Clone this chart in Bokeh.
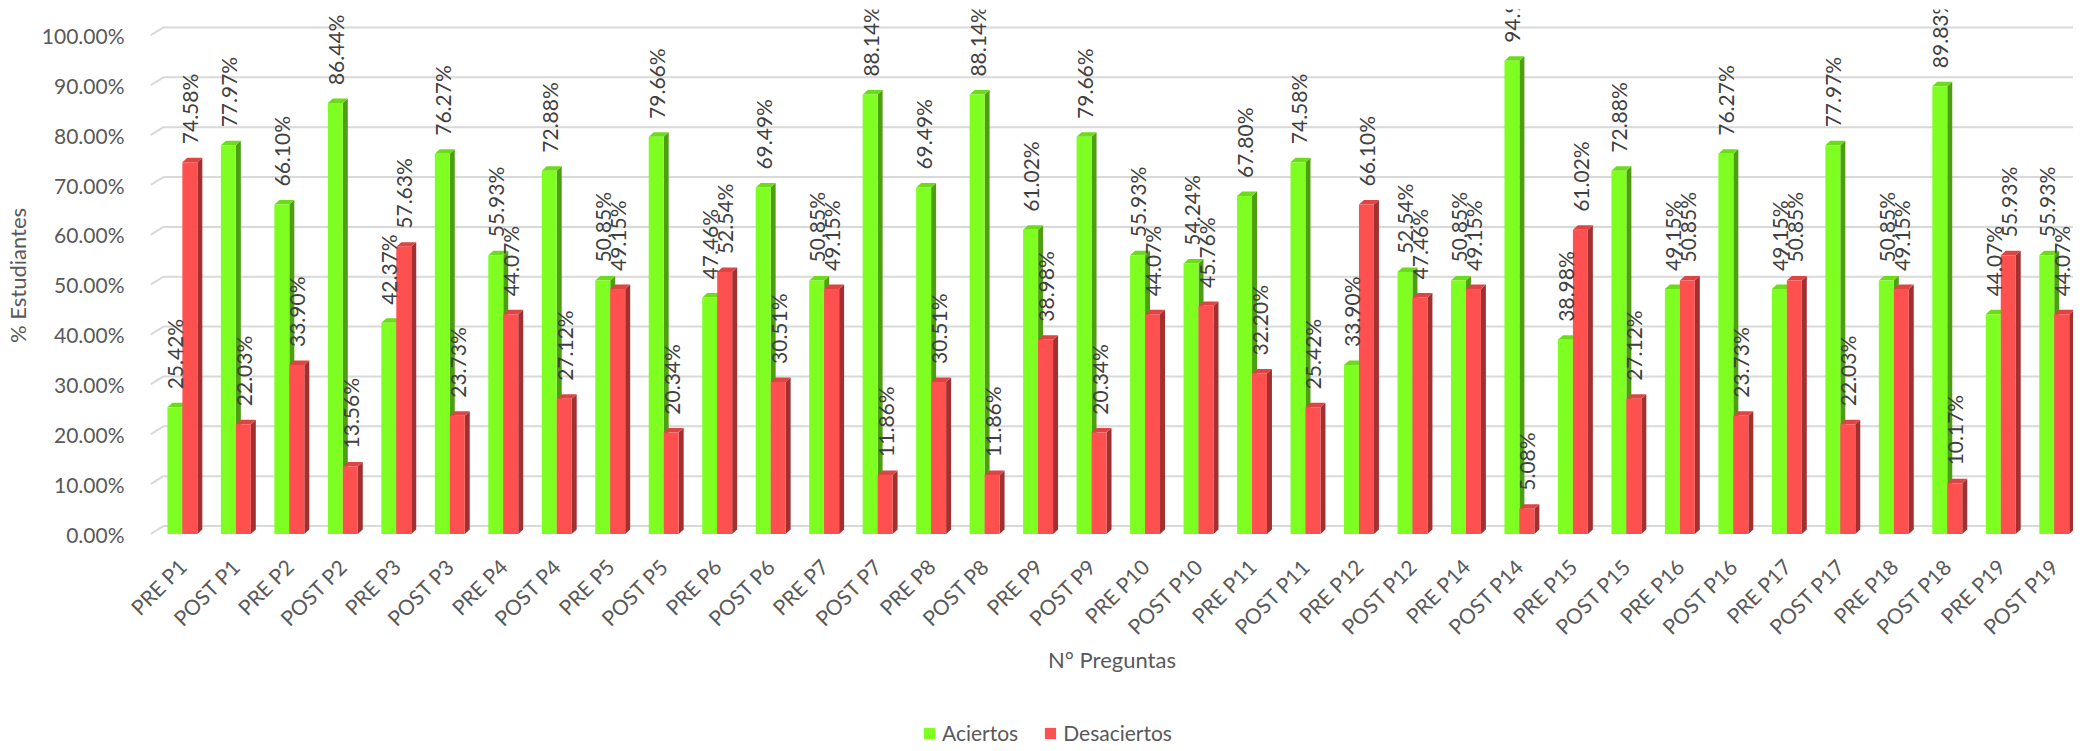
import math
from bokeh.plotting import figure
from bokeh.layouts import column
from bokeh.models import (Range1d, FixedTicker, PrintfTickFormatter, Legend, LegendItem)
from bokeh.core.properties import value
from bokeh.embed import file_html
from bokeh.resources import INLINE

categories = ["PRE P1", "POST P1", "PRE P2", "POST P2", "PRE P3", "POST P3", "PRE P4", "POST P4",
              "PRE P5", "POST P5", "PRE P6", "POST P6", "PRE P7", "POST P7", "PRE P8", "POST P8",
              "PRE P9", "POST P9", "PRE P10", "POST P10", "PRE P11", "POST P11", "PRE P12", "POST P12",
              "PRE P14", "POST P14", "PRE P15", "POST P15", "PRE P16", "POST P16", "PRE P17", "POST P17",
              "PRE P18", "POST P18", "PRE P19", "POST P19"]
aciertos = [25.42, 77.97, 66.10, 86.44, 42.37, 76.27, 55.93, 72.88, 50.85, 79.66, 47.46, 69.49,
            50.85, 88.14, 69.49, 88.14, 61.02, 79.66, 55.93, 54.24, 67.80, 74.58, 33.90, 52.54,
            50.85, 94.92, 38.98, 72.88, 49.15, 76.27, 49.15, 77.97, 50.85, 89.83, 44.07, 55.93]
desaciertos = [74.58, 22.03, 33.90, 13.56, 57.63, 23.73, 44.07, 27.12, 49.15, 20.34, 52.54, 30.51,
               49.15, 11.86, 30.51, 11.86, 38.98, 20.34, 44.07, 45.76, 32.20, 25.42, 66.10, 47.46,
               49.15, 5.08, 61.02, 27.12, 50.85, 23.73, 50.85, 22.03, 49.15, 10.17, 55.93, 44.07]
series_names = ["Aciertos", "Desaciertos"]
y_ticks = [0, 10, 20, 30, 40, 50, 60, 70, 80, 90, 100]

FONT = "Lato"
GREEN = ("#7FFF21", "#6CDC1A", "#4E9E12")
RED = ("#FF5050", "#DD4545", "#A33030")
X0, X1 = -0.596, 35.36
Y0, Y1 = -1.5, 105.2

p = figure(width=2073, height=695, output_backend="svg", toolbar_location=None,
           x_range=Range1d(X0, X1), y_range=Range1d(Y0, Y1),
           min_border_top=9, min_border_right=0, min_border_left=142, min_border_bottom=154)
p.outline_line_color = None
p.xgrid.visible = False
p.ygrid.visible = False

# back-wall gridlines with perspective slant at left
gdx, gdy = 0.242, 1.6
p.multi_line(xs=[[X0, X0 + gdx, X1] for _ in y_ticks],
             ys=[[t, t + gdy, t + gdy] for t in y_ticks],
             line_color="#D9D9D9", line_width=2)

bw = 0.28
ddx, ddy = 0.093, 0.9

def boxes(vals, x_off):
    fr, tp, sd = ([], []), ([], []), ([], [])
    for i, v in enumerate(vals):
        a, b = i + x_off, i + x_off + bw
        fr[0].append([a, b, b, a]); fr[1].append([0, 0, v, v])
        tp[0].append([a, b, b + ddx, a + ddx]); tp[1].append([v, v, v + ddy, v + ddy])
        sd[0].append([b, b + ddx, b + ddx, b]); sd[1].append([0, ddy, v + ddy, v])
    return fr, tp, sd

def draw(vals, x_off, cols):
    fr, tp, sd = boxes(vals, x_off)
    p.patches(sd[0], sd[1], fill_color=cols[2], line_color=None)
    p.patches(tp[0], tp[1], fill_color=cols[1], line_color=None)
    return p.patches(fr[0], fr[1], fill_color=cols[0], line_color=None)

draw(aciertos, -bw, GREEN)
draw(desaciertos, 0.0, RED)

# data labels
lab_off = 3.6
xs = [i - bw / 2 for i in range(len(categories))] + [i + bw / 2 for i in range(len(categories))]
ys = [v + lab_off for v in aciertos] + [v + lab_off for v in desaciertos]
tx = [f"{v:.2f}%" for v in aciertos] + [f"{v:.2f}%" for v in desaciertos]
p.text(x=xs, y=ys, text=tx, angle=math.pi / 2, text_align="left", text_baseline="middle",
       text_font=value(FONT), text_font_size="21px", text_color="#404040")

# axes
p.yaxis.ticker = FixedTicker(ticks=y_ticks)
p.yaxis.formatter = PrintfTickFormatter(format="%.2f%%")
p.yaxis.axis_line_color = None
p.yaxis.major_tick_line_color = None
p.yaxis.minor_tick_line_color = None
p.yaxis.major_label_standoff = 20
p.yaxis.major_label_text_font = FONT
p.yaxis.major_label_text_font_size = "21px"
p.yaxis.major_label_text_color = "#595959"
p.yaxis.axis_label = "% Estudiantes"
p.yaxis.axis_label_text_font = FONT
p.yaxis.axis_label_text_font_size = "22px"
p.yaxis.axis_label_text_font_style = "normal"
p.yaxis.axis_label_text_color = "#595959"
p.yaxis.axis_label_standoff = 8

p.xaxis.ticker = FixedTicker(ticks=list(range(len(categories))))
p.xaxis.major_label_overrides = {i: c for i, c in enumerate(categories)}
p.xaxis.major_label_orientation = math.pi / 4
p.xaxis.axis_line_color = None
p.xaxis.major_tick_line_color = None
p.xaxis.minor_tick_line_color = None
p.xaxis.major_label_standoff = 15
p.xaxis.major_label_text_font = FONT
p.xaxis.major_label_text_font_size = "21px"
p.xaxis.major_label_text_color = "#595959"
p.xaxis.axis_label = "N° Preguntas"
p.xaxis.axis_label_text_font = FONT
p.xaxis.axis_label_text_font_size = "22px"
p.xaxis.axis_label_text_font_style = "normal"
p.xaxis.axis_label_text_color = "#595959"
p.xaxis.axis_label_standoff = -5

# legend strip
lg = figure(width=2073, height=50, output_backend="svg", toolbar_location=None,
            x_range=Range1d(0, 1), y_range=Range1d(0, 1),
            min_border=0, min_border_left=0, min_border_right=0, min_border_top=0, min_border_bottom=0)
lg.axis.visible = False
lg.xgrid.visible = False
lg.ygrid.visible = False
lg.outline_line_color = None
rg = lg.patches(xs=[[]], ys=[[]], fill_color=GREEN[0], line_color=None)
rr = lg.patches(xs=[[]], ys=[[]], fill_color=RED[0], line_color=None)
legend = Legend(items=[LegendItem(label=series_names[0], renderers=[rg]),
                       LegendItem(label=series_names[1], renderers=[rr])],
                orientation="horizontal", location=(772, 0),
                label_text_font=FONT, label_text_font_size="21px", label_text_color="#595959",
                glyph_width=14, glyph_height=14, label_standoff=6, spacing=25,
                border_line_color=None, background_fill_alpha=0, margin=0, padding=0)
lg.add_layout(legend, "center")

open("out.html", "w").write(file_html(column(p, lg, spacing=0), INLINE))
